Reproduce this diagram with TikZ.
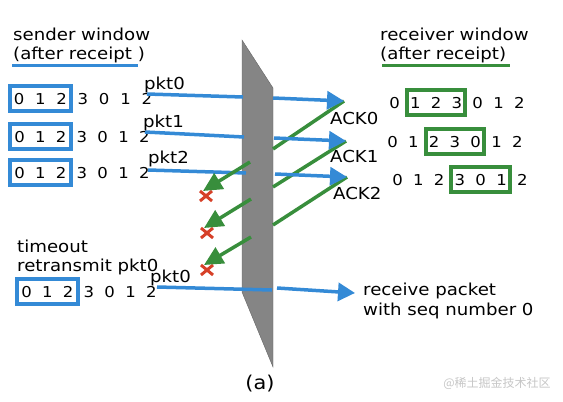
\documentclass[tikz,border=0pt]{standalone}
\usepackage{fontspec}
\setmainfont{DejaVu Sans}[FakeStretch=1.1]
\newfontfamily\cjkfont{Noto Sans CJK SC}
\usepackage{tikz}
\usetikzlibrary{arrows.meta,calc,positioning,fit}
\definecolor{pktblue}{RGB}{52,138,214}
\definecolor{ackgreen}{RGB}{56,142,60}
\definecolor{lossred}{RGB}{214,64,40}
\definecolor{wallgray}{RGB}{133,133,133}
% one row of sequence numbers: nodes #1-0 ... #1-6
\newcommand{\seqrow}[4]{\foreach \d [count=\i from 0] in {0,1,2,3,0,1,2}
  \node[seqnum] (#1-\i) at ({#2+\i*#4},#3) {\d};}
\newcommand{\lossmark}[1]{\begin{scope}[shift={(#1)}]\draw[lossred,line width=3pt]
  (-6,-5)--(6,5) (-6,5)--(6,-5);\end{scope}}

\begin{document}
\begin{tikzpicture}[x=1pt,y=-1pt,font=\fontsize{16.5}{19.5}\selectfont,
  seqnum/.style={anchor=base,inner sep=0pt,font=\fontsize{15}{18}\selectfont},
  sndbox/.style={draw=pktblue,line width=4pt,inner xsep=4pt,inner ysep=7pt},
  rcvbox/.style={draw=ackgreen,line width=4pt,inner xsep=3pt,inner ysep=7pt},
  pkt/.style={pktblue,line width=3.5pt},
  pktarrow/.style={pkt,-{Triangle[length=17pt,width=18pt]}},
  ack/.style={ackgreen,line width=3.5pt},
  ackarrow/.style={ack,-{Triangle[length=19pt,width=18pt]}},
  lbl/.style={anchor=base west,inner sep=0pt}]
\useasboundingbox (0,0) rectangle (563,402);
% the lossy channel
\fill[wallgray,draw=wallgray!75!black] (242,40) -- (273,88) -- (273,367) -- (242,292) -- cycle;
% sender side
\node[lbl] (sndtitle) at (13,40) {sender window};
\node[lbl] (sndsub) at (13,59) {(after receipt )};
\draw[pkt,line width=3pt] (12,65) -- (138,65);
\seqrow{s1}{19}{104}{21.3}
\seqrow{s2}{19.5}{142}{20.8}
\seqrow{s3}{19.5}{178}{20.8}
\node[sndbox,fit=(s1-0)(s1-2)] (w1) {};
\node[sndbox,fit=(s2-0)(s2-2)] (w2) {};
\node[sndbox,fit=(s3-0)(s3-2)] (w3) {};
\node[lbl] (timeout) at (17,252) {timeout};
\node[lbl] (retx) at (17,271) {retransmit pkt0};
\seqrow{s4}{26.5}{297}{20.8}
\node[sndbox,fit=(s4-0)(s4-2)] (w4) {};
% receiver side
\node[lbl] (rcvtitle) at (380,40) {receiver window};
\node[lbl] (rcvsub) at (380,59) {(after receipt)};
\draw[ack,line width=3pt] (382,65) -- (510,65);
\seqrow{r1}{394.5}{108}{20.8}
\seqrow{r2}{392.5}{147}{20.8}
\seqrow{r3}{397.5}{185}{20.8}
\node[rcvbox,fit=(r1-1)(r1-3)] (v1) {};
\node[rcvbox,fit=(r2-2)(r2-4)] (v2) {};
\node[rcvbox,fit=(r3-3)(r3-5)] (v3) {};
\node[lbl] (rcvnote) at (363,295) {receive packet};
\node[lbl] (rcvnote2) at (363,315) {with seq number 0};
% packets and acks
\coordinate (p0s) at (147,94);  \coordinate (p0w) at (243,97);
\coordinate (p0r) at (273,98);  \coordinate (p0e) at (344,101);
\coordinate (p1s) at (145,132); \coordinate (p1w) at (244,137);
\coordinate (p1r) at (274,138); \coordinate (p1e) at (346,141);
\coordinate (p2s) at (148,170); \coordinate (p2w) at (246,173);
\coordinate (p2r) at (275,174); \coordinate (p2e) at (347,177);
\coordinate (p3s) at (157,287); \coordinate (p3w) at (272,290);
\coordinate (p3r) at (277,288); \coordinate (p3e) at (355,293);
\coordinate (a0r) at (273,149); \coordinate (a0l) at (250,162); \coordinate (a0e) at (203,191);
\coordinate (a1r) at (273,187); \coordinate (a1l) at (251,199); \coordinate (a1e) at (204,228);
\coordinate (a2r) at (273,225); \coordinate (a2l) at (251,237); \coordinate (a2e) at (204,265);
\draw[ack] (a0r) -- (p0e);
\draw[ack] (a1r) -- (p1e);
\draw[ack] (a2r) -- (p2e);
\draw[pkt] (p0s) -- (p0w); \draw[pktarrow] (p0r) -- (p0e);
\draw[pkt] (p1s) -- (p1w); \draw[pktarrow] (p1r) -- (p1e);
\draw[pkt] (p2s) -- (p2w); \draw[pktarrow] (p2r) -- (p2e);
\draw[pkt] (p3s) -- (p3w); \draw[pktarrow] (p3r) -- (p3e);
\lossmark{206,196}
\lossmark{207,233}
\lossmark{207,270}
\draw[ackarrow] (a0l) -- (a0e);
\draw[ackarrow] (a1l) -- (a1e);
\draw[ackarrow] (a2l) -- (a2e);
\node[lbl] (pkt0) at (144,89) {pkt0};
\node[lbl] (pkt1) at (143,127) {pkt1};
\node[lbl] (pkt2) at (148,163) {pkt2};
\node[lbl] (pkt0b) at (150,282) {pkt0};
\node[lbl] (ack0) at (330,124) {ACK0};
\node[lbl] (ack1) at (330,162) {ACK1};
\node[lbl] (ack2) at (333,199) {ACK2};
\node[anchor=base,inner sep=0pt,font=\fontsize{19}{22}\selectfont] (cap) at (260,389) {(a)};
\node[text=gray!45,font=\cjkfont\fontsize{12}{14}\selectfont] (wm) at (497,383) {@稀土掘金技术社区};
\end{tikzpicture}
\end{document}
